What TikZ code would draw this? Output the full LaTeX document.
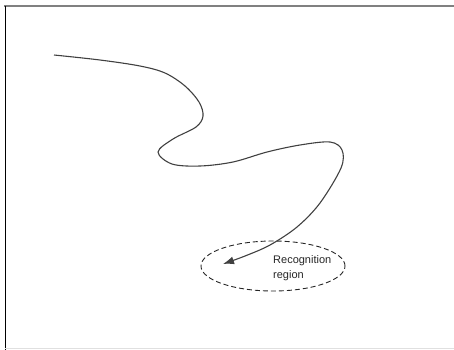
\documentclass[tikz,border=0pt]{standalone}
\usepackage{fontspec}
\setmainfont{Liberation Sans}
\usetikzlibrary{arrows.meta, shapes.geometric}

\begin{document}
\begin{tikzpicture}
	% style
	[x=1pt, y=-1pt,
	frame/.style={line width=1pt, line cap=rect},
	track/.style={line width=1.1pt, draw=black!75, -{Latex[length=11pt,width=8pt]}},
	region/.style={ellipse, draw=black!85, line width=0.9pt, dash pattern=on 5pt off 3pt, minimum width=144pt, minimum height=50pt, inner sep=0pt},
	region_label/.style={anchor=north west, inner sep=0pt, align=left, text=black!85, font=\fontsize{11}{15}\selectfont}]

	\useasboundingbox (0,0) rectangle (454,349);

	% frame
	\draw [frame, draw=black!50, line width=2pt] (5,6) -- (454,6);
	\draw [frame, draw=black] (5.5,6) -- (5.5,349);
	\draw [frame, draw=black!12] (5,348) -- (454,348);

	% recognition region
	\node [region] (rec) at (273,266) {};
	\node [region_label] (rec_label) at (273,255) {Recognition\\region};

	% path
	\coordinate (start) at (54,55);
	\coordinate (tip) at (223,264);
	\draw [track] plot [smooth, tension=0.55] coordinates {(start) (100,60) (140,66) (165,73) (185,86) (199,102) (203,116) (196,127) (173,139) (158,152) (172,164) (200,166) (233,162) (267,152) (300,145) (330,142) (342,150) (341,168) (320,203) (297,227) (270,245) (245,256) (tip)};
\end{tikzpicture}
\end{document}
